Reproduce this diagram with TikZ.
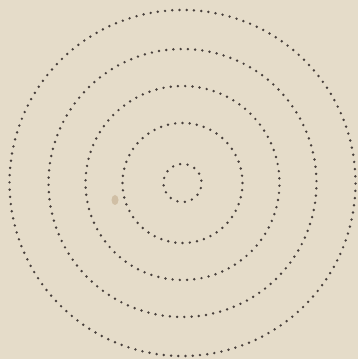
\documentclass[tikz,border=0pt]{standalone}
\usepackage{xcolor}
\usepackage{tikz}
\usetikzlibrary{calc}
\definecolor{paper}{RGB}{229,220,201}
\definecolor{ink}{RGB}{72,64,60}
\definecolor{stain}{RGB}{200,180,150}
\tikzset{
  paperbg/.style={fill=paper, draw=none},
  inkdot/.style={fill=ink, draw=none},
  smudge/.style={fill=stain, draw=none, opacity=0.7}
}

\begin{document}
\begin{tikzpicture}[x=0.025cm, y=0.025cm]
    \fill[paperbg] (0,0) rectangle (358,359);
    \useasboundingbox (0,0) rectangle (358,359);
    \coordinate (ctr) at (182.5,176);
    % rings of dots, radius / number of dots
    \foreach \r/\n in {19/16, 60/52, 97/84, 134/116, 173/150} {
      \pgfmathsetmacro{\stp}{360/\n}
      \foreach \k in {1,...,\n} {
        \fill[inkdot] ($(ctr)+({\stp*\k+7}:\r)$) circle[radius=1.35];
      }
    }
    \fill[smudge] (115,159) ellipse[x radius=3.5, y radius=5];
  \end{tikzpicture}
\end{document}
